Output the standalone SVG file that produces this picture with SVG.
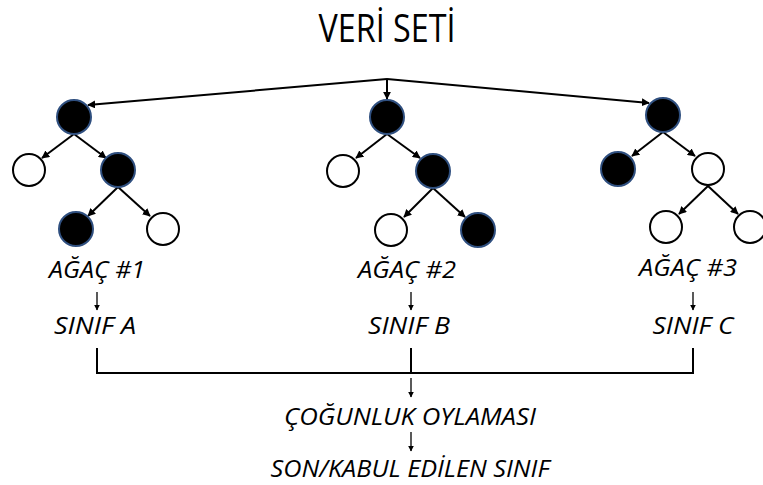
<svg xmlns="http://www.w3.org/2000/svg" width="763" height="485" viewBox="0 0 763 485">
<style>
.blk{fill:#000;stroke:#2f4f7f;stroke-width:2}
.wht{fill:#fff;stroke:#000;stroke-width:2}
.edge{stroke:#000;stroke-width:2;fill:none}
.thin{stroke:#000;stroke-width:1.3;fill:none}
.lbl{font-family:"Open Sans","Liberation Sans",sans-serif;font-style:italic;font-size:23px;fill:#000;text-anchor:middle}
.title{font-family:"Open Sans","Liberation Sans",sans-serif;font-size:38px;fill:#000;text-anchor:middle}
</style>
<defs>
<marker id="ah" viewBox="0 0 10 10" refX="9" refY="5" markerWidth="4" markerHeight="4" orient="auto" markerUnits="strokeWidth"><path d="M0,0 L10,5 L0,10 z" fill="#000"/></marker>
<marker id="ahs" viewBox="0 0 10 10" refX="9" refY="5" markerWidth="4.5" markerHeight="5" orient="auto" markerUnits="strokeWidth"><path d="M0,0 L10,5 L0,10 z" fill="#000"/></marker>
</defs>
<text class="title" x="387" y="42" textLength="137" lengthAdjust="spacingAndGlyphs">VERİ SETİ</text>
<g id="connectors">
<line class="edge" x1="387" y1="79" x2="88" y2="105" marker-end="url(#ah)"/>
<line class="edge" x1="387" y1="79" x2="387" y2="99" marker-end="url(#ah)"/>
<line class="edge" x1="387" y1="79" x2="649" y2="103" marker-end="url(#ah)"/>
<line class="edge" x1="74" y1="134" x2="42" y2="158" marker-end="url(#ah)"/>
<line class="edge" x1="74" y1="134" x2="106" y2="158" marker-end="url(#ah)"/>
<line class="edge" x1="118" y1="187" x2="88" y2="216" marker-end="url(#ah)"/>
<line class="edge" x1="118" y1="187" x2="150" y2="216" marker-end="url(#ah)"/>
<line class="edge" x1="387" y1="134" x2="356" y2="158" marker-end="url(#ah)"/>
<line class="edge" x1="387" y1="134" x2="420" y2="158" marker-end="url(#ah)"/>
<line class="edge" x1="433" y1="188" x2="404" y2="217" marker-end="url(#ah)"/>
<line class="edge" x1="433" y1="188" x2="465" y2="217" marker-end="url(#ah)"/>
<line class="edge" x1="663" y1="132" x2="632" y2="156" marker-end="url(#ah)"/>
<line class="edge" x1="663" y1="132" x2="695" y2="156" marker-end="url(#ah)"/>
<line class="edge" x1="708" y1="186" x2="679" y2="214" marker-end="url(#ah)"/>
<line class="edge" x1="708" y1="186" x2="738" y2="214" marker-end="url(#ah)"/>
<line class="thin" x1="97" y1="292" x2="97" y2="310" marker-end="url(#ahs)"/>
<line class="thin" x1="411" y1="292" x2="411" y2="310" marker-end="url(#ahs)"/>
<line class="thin" x1="693" y1="292" x2="693" y2="310" marker-end="url(#ahs)"/>
<path class="edge" d="M97,348 V373 H693 V348 M411,348 V373" />
<line class="thin" x1="411" y1="378" x2="411" y2="397" marker-end="url(#ahs)"/>
<line class="thin" x1="411" y1="432" x2="411" y2="451" marker-end="url(#ahs)"/>
</g>
<g id="tree1">
<circle class="blk" cx="74" cy="117" r="17"/>
<circle class="wht" cx="29" cy="170" r="16"/>
<circle class="blk" cx="118" cy="170" r="17"/>
<circle class="blk" cx="76" cy="229" r="17"/>
<circle class="wht" cx="163" cy="229" r="16"/>
</g>
<g id="tree2">
<circle class="blk" cx="387" cy="117" r="17"/>
<circle class="wht" cx="343" cy="171" r="16"/>
<circle class="blk" cx="433" cy="171" r="17"/>
<circle class="wht" cx="391" cy="230" r="16"/>
<circle class="blk" cx="478" cy="230" r="17"/>
</g>
<g id="tree3">
<circle class="blk" cx="663" cy="115" r="17"/>
<circle class="blk" cx="618" cy="169" r="17"/>
<circle class="wht" cx="708" cy="169" r="16"/>
<circle class="wht" cx="666" cy="227" r="16"/>
<circle class="wht" cx="750" cy="227" r="16"/>
</g>
<g id="labels">
<text class="lbl" x="97" y="278" textLength="96" lengthAdjust="spacingAndGlyphs">AĞAÇ #1</text>
<text class="lbl" x="407" y="278" textLength="98" lengthAdjust="spacingAndGlyphs">AĞAÇ #2</text>
<text class="lbl" x="688" y="276" textLength="98" lengthAdjust="spacingAndGlyphs">AĞAÇ #3</text>
<text class="lbl" x="95" y="334" textLength="82" lengthAdjust="spacingAndGlyphs">SINIF A</text>
<text class="lbl" x="409" y="334" textLength="82" lengthAdjust="spacingAndGlyphs">SINIF B</text>
<text class="lbl" x="693" y="334" textLength="81" lengthAdjust="spacingAndGlyphs">SINIF C</text>
<text class="lbl" x="410" y="425" textLength="252" lengthAdjust="spacingAndGlyphs">ÇOĞUNLUK OYLAMASI</text>
<text class="lbl" x="410" y="477" textLength="279" lengthAdjust="spacingAndGlyphs">SON/KABUL EDİLEN SINIF</text>
</g>
</svg>
